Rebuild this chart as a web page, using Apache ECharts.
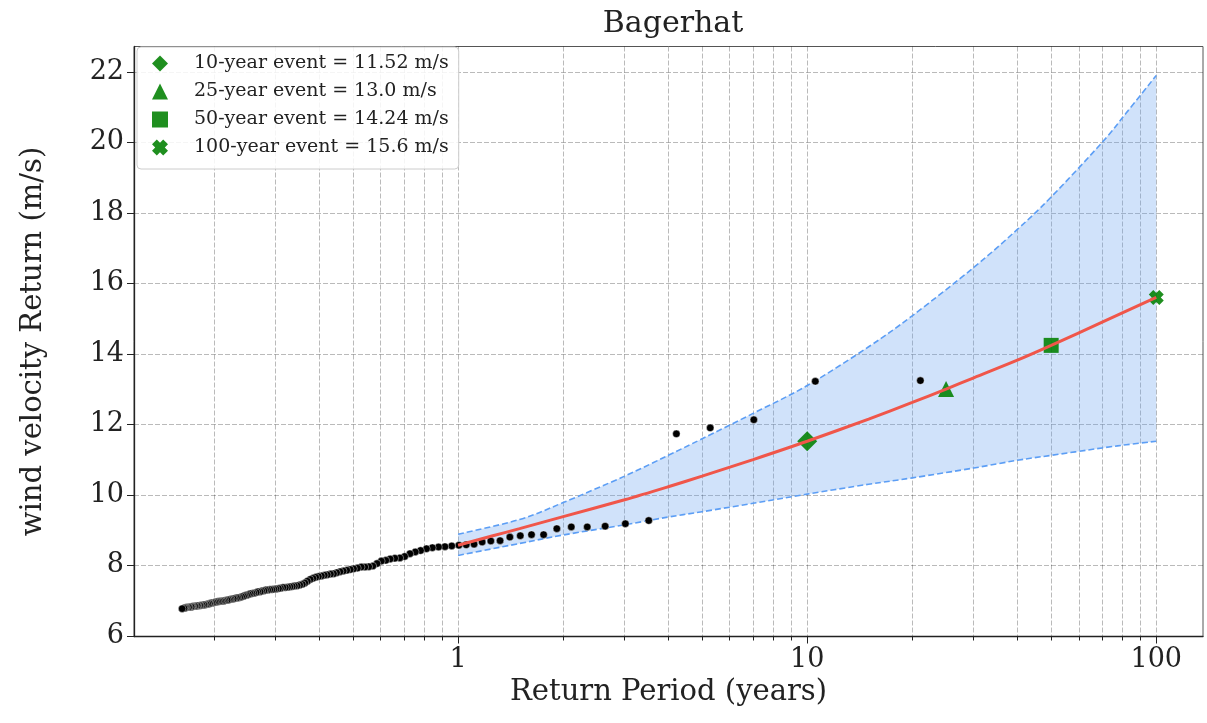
<!DOCTYPE html>
<html><head><meta charset="utf-8">
<script src="https://cdn.jsdelivr.net/npm/echarts@6/dist/echarts.min.js"></script>
<style>html,body{margin:0;padding:0;background:#fff}#c{width:1207px;height:723px}</style>
</head><body><div id="c"></div>
<script>
// ---- observed annual points (return period in years, wind velocity m/s) ----
const periods = [21.1,10.55,7.033,5.275,4.22,3.517,3.014,2.638,2.344,2.11,1.918,1.758,1.623,1.507,1.407,1.319,1.241,1.172,1.111,1.055,1.005,
0.959,0.917,0.879,0.844,0.812,0.781,0.754,0.728,0.703,0.681,0.659,0.639,0.621,0.603,0.586,0.570,0.555,0.541,0.528,0.515,0.502,0.491,0.480,0.469,0.459,0.449,0.440,0.431,0.422,0.414,0.406,0.398,0.391,0.384,0.377,0.370,0.364,0.358,0.352,0.346,0.340,0.335,0.330,0.325,0.320,0.315,0.310,0.306,0.301,0.297,0.293,0.289,0.285,0.281,0.278,0.274,0.271,0.267,0.264,0.260,0.257,0.254,0.251,0.248,0.245,0.243,0.240,0.237,0.234,0.232,0.229,0.227,0.224,0.222,0.220,0.218,0.215,0.213,0.211,0.209,0.207,0.205,0.203,0.201,0.199,0.197,0.195,0.194,0.192,0.190,0.188,0.187,0.185,0.183,0.182,0.180,0.179,0.177,0.176,0.174,0.173,0.172,0.170,0.169,0.167,0.166,0.165,0.164,0.162];
const winds = [13.24,13.22,12.13,11.90,11.73,9.27,9.18,9.11,9.09,9.09,9.04,8.87,8.87,8.84,8.80,8.70,8.69,8.66,8.60,8.58,8.57,
8.55,8.53,8.52,8.50,8.47,8.42,8.38,8.33,8.25,8.21,8.20,8.18,8.14,8.12,8.05,7.98,7.96,7.95,7.95,7.92,7.90,7.88,7.86,7.84,7.82,7.79,7.76,7.75,7.73,7.72,7.70,7.68,7.66,7.63,7.60,7.55,7.50,7.46,7.44,7.42,7.41,7.40,7.39,7.38,7.37,7.37,7.35,7.34,7.33,7.32,7.31,7.31,7.30,7.30,7.28,7.27,7.25,7.25,7.23,7.21,7.20,7.19,7.17,7.15,7.14,7.12,7.11,7.09,7.08,7.07,7.06,7.05,7.04,7.03,7.02,7.01,7.00,6.99,6.98,6.98,6.97,6.97,6.96,6.95,6.94,6.93,6.92,6.91,6.90,6.89,6.88,6.88,6.87,6.86,6.86,6.85,6.85,6.84,6.84,6.83,6.83,6.82,6.81,6.81,6.80,6.80,6.79,6.78,6.77];

// ---- fitted return level curve ----
const fitPeriods = [1,1.25,1.5,2,3,4,5,7,10,15,20,25,30,40,50,70,100];
const fitValues  = [8.57,8.83,9.04,9.38,9.86,10.23,10.53,11.0,11.52,12.15,12.62,13.0,13.32,13.82,14.24,14.9,15.6];

// ---- confidence band ----
const bandPeriods = [1,1.5,2,3,4,5,7,10,15,20,30,40,50,70,82,100];
const bandUpper   = [8.88,9.30,9.78,10.53,11.12,11.59,12.31,13.10,14.2,15.08,16.45,17.53,18.45,20.0,20.83,21.9];
const bandLower   = [8.28,8.62,8.86,9.15,9.37,9.52,9.76,10.02,10.3,10.48,10.76,10.98,11.12,11.33,11.42,11.52];

// ---- return events ----
const eventNames   = ['10-year event = 11.52 m/s','25-year event = 13.0 m/s','50-year event = 14.24 m/s','100-year event = 15.6 m/s'];
const eventPeriods = [10,25,50,100];
const eventValues  = [11.52,13.0,14.24,15.6];

// ---- ticks ----
const xMajorYears = [1,10,100];
const xMinorYears = [0.2,0.3,0.4,0.5,0.6,0.7,0.8,0.9,2,3,4,5,6,7,8,9,20,30,40,50,60,70,80,90];
const yTicks = [6,8,10,12,14,16,18,20,22];

const L = v => Math.log10(v);
const FONT = 'DejaVu Serif';
const xMin = -0.9284, xMax = 2.1339;
const gridLine = {show:true, lineStyle:{color:'rgba(0,0,0,0.3)', width:0.9, type:[5,2]}};
const green = 'rgba(0,128,0,0.88)';
const xSym = 'path://M0,3 L3,0 L5,2 L7,0 L10,3 L8,5 L10,7 L7,10 L5,8 L3,10 L0,7 L2,5 Z';
const eventSymbols = ['diamond','triangle','rect', xSym];
const eventSizes = [20,16,15,15];

// smooth path (Catmull-Rom as cubic Bezier) through pixel points from the axes
function curve(pts) {
  let d = '';
  for (let i = 0; i < pts.length - 1; i++) {
    const p0 = pts[Math.max(i - 1, 0)], p1 = pts[i], p2 = pts[i + 1], p3 = pts[Math.min(i + 2, pts.length - 1)];
    const c1 = [p1[0] + (p2[0] - p0[0]) / 6, p1[1] + (p2[1] - p0[1]) / 6];
    const c2 = [p2[0] - (p3[0] - p1[0]) / 6, p2[1] - (p3[1] - p1[1]) / 6];
    d += ` C${c1[0]},${c1[1]} ${c2[0]},${c2[1]} ${p2[0]},${p2[1]}`;
  }
  return d;
}

const chart = echarts.init(document.getElementById('c'), null, {renderer:'canvas'});
const series = [
  {type:'custom', silent:true, z:2, clip:true, data:[[0,0]],
   renderItem:(params, api)=>{
     const up = bandPeriods.map((p,i)=>api.coord([L(p), bandUpper[i]]));
     const lo = bandPeriods.map((p,i)=>api.coord([L(p), bandLower[i]]));
     const loRev = lo.slice().reverse();
     const upD = `M${up[0][0]},${up[0][1]}` + curve(up);
     const loD = `M${lo[0][0]},${lo[0][1]}` + curve(lo);
     const fillD = upD + ` L${loRev[0][0]},${loRev[0][1]}` + curve(loRev) + ' Z';
     const dash = {fill:'none', stroke:'#5c9ef5', lineWidth:1.6, lineDash:[6,3]};
     return {type:'group', children:[
       {type:'path', shape:{pathData:fillD}, style:{fill:'rgba(100,160,240,0.3)', stroke:'none'}},
       {type:'path', shape:{pathData:upD}, style:dash},
       {type:'path', shape:{pathData:loD}, style:dash}
     ]};
   }},
  {type:'scatter', silent:true, z:3, symbolSize:7.5, data:periods.map((p,i)=>[L(p),winds[i]]),
   itemStyle:{color:'#000', borderColor:'rgba(255,255,255,0.8)', borderWidth:0.5, opacity:1}},
];
eventNames.forEach((n,i)=>{
  series.push({type:'scatter', name:n, z:4, symbol:eventSymbols[i], symbolSize:eventSizes[i],
    data:[[L(eventPeriods[i]), eventValues[i]]], itemStyle:{color:green, opacity:1}});
});
series.push({type:'line', silent:true, z:5, symbol:'none', smooth:0.3,
  data:fitPeriods.map((p,i)=>[L(p),fitValues[i]]), lineStyle:{color:'#f0564a', width:3}});

chart.setOption({
  animation:false,
  backgroundColor:'#fff',
  title:{text:'Bagerhat', left:668, top:4, textAlign:'center',
    textStyle:{fontFamily:FONT, fontSize:30, fontWeight:'normal', color:'#222'}},
  grid:{left:134, right:4, top:46.5, bottom:86.5, show:true, borderColor:'#555', borderWidth:1, containLabel:false},
  legend:{orient:'vertical', left:137, top:47, padding:[7,10,12,15], itemWidth:16, itemHeight:16, itemGap:9,
    backgroundColor:'rgba(255,255,255,0.85)', borderColor:'#ccc', borderWidth:1, borderRadius:4,
    data:eventNames, selectedMode:false,
    textStyle:{fontFamily:FONT, fontSize:19, color:'#222', padding:[0,0,0,21]}},
  xAxis:[
    {type:'value', min:xMin, max:xMax, position:'bottom',
     name:'Return Period (years)', nameLocation:'middle', nameGap:36,
     nameTextStyle:{fontFamily:FONT, fontSize:29, color:'#222'},
     axisLine:{show:true, onZero:false, lineStyle:{color:'#222', width:1.3}},
     axisTick:{show:true, length:7, customValues:xMajorYears.map(L), lineStyle:{color:'#222'}},
     axisLabel:{customValues:xMajorYears.map(L), formatter:v=>String(Math.round(Math.pow(10,v))),
       fontFamily:FONT, fontSize:27, color:'#222', margin:10},
     splitLine:gridLine},
    {type:'value', min:xMin, max:xMax, position:'bottom', offset:0,
     axisLine:{show:false},
     axisTick:{show:true, length:4, customValues:xMinorYears.map(L), lineStyle:{color:'#222'}},
     axisLabel:{show:false},
     splitLine:gridLine}
  ],
  yAxis:{type:'value', min:5.98, max:22.72,
    name:'wind velocity Return (m/s)', nameLocation:'middle', nameGap:86,
    nameTextStyle:{fontFamily:FONT, fontSize:29, color:'#222'},
    axisLine:{show:true, onZero:false, lineStyle:{color:'#222', width:1.3}},
    axisTick:{show:true, length:7, customValues:yTicks, lineStyle:{color:'#222'}},
    axisLabel:{customValues:yTicks, fontFamily:FONT, fontSize:27, color:'#222', margin:10},
    splitLine:{show:true, lineStyle:{color:'rgba(0,0,0,0.3)', width:0.9, type:[5,2]}}},
  series:series
});
</script></body></html>
